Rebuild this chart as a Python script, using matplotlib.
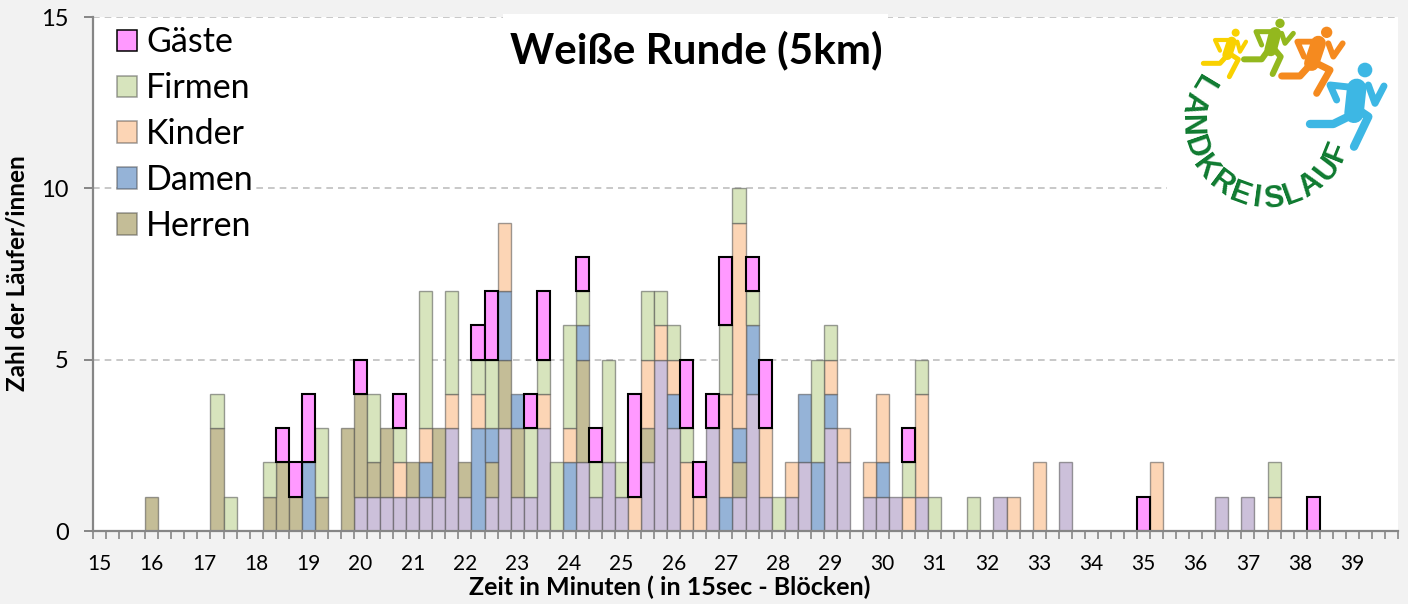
import math
import numpy as np
import matplotlib
matplotlib.use("Agg")
import matplotlib.pyplot as plt
from matplotlib.patches import Rectangle, Circle

plt.rcParams['font.family'] = ['Lato', 'DejaVu Sans']

minutes = list(range(15, 40))
series_names = ["Lila", "Herren", "Damen", "Kinder", "Firmen", "Gäste"]
lila = [0]*20 + [1,1,1,1,1,1,1,3,1,0, 1,3,1,1,3,0,0,2,1,2, 1,0,2,5,3,0,0,3,0,1,
                 4,1,0,1,2,0,3,2,0,1, 1,1,0,1,0,0,0,0,0,1, 0,0,0,0,2,0,0,0,0,0,
                 0,0,0,0,0,0,1,0,1,0] + [0]*10
herren = [0,0,0,0,1,0,0,0,0,3, 0,0,0,1,2,1,0,1,0,3, 3,1,2,0,1,0,2,0,1,0,
          1,2,2,0,0,0,0,3,0,0, 0,0,1,0,0,0,0,0,0,1] + [0]*50
damen = [0]*10 + [0,0,0,0,0,0,2,0,0,0, 0,0,0,0,0,1,0,0,0,3, 1,2,1,0,0,0,2,1,0,0,
                  0,0,0,0,1,0,0,0,1,1, 2,0,0,0,2,2,1,0,0,0, 1,0,0,0,0,0,0,0,0,0] + [0]*30
kinder = [0]*20 + [0,0,0,1,0,1,0,1,0,1, 0,2,0,0,1,0,1,0,0,0, 0,1,2,1,1,2,1,0,3,6,
                   0,2,0,1,0,0,1,1,0,1, 2,0,1,3,0,0,0,0,0,0, 1,0,2,0,0,0,0,0,0,0,
                   0,2,0,0,0,0,0,0,0,0, 1,0,0,0,0,0,0,0,0,0]
firmen = [0,0,0,0,0,0,0,0,0,1, 1,0,0,1,0,0,0,2,0,0, 0,2,0,1,0,4,0,3,0,1,
          2,0,0,2,1,2,3,1,1,3, 1,0,2,1,1,1,0,0,2,1, 1,0,1,0,0,3,1,0,0,0,
          0,0,1,1,1,0,0,1,0,0] + [0]*20 + [1,0,0,0,0,0,0,0,0,0]
gaeste = [0]*10 + [0,0,0,0,1,1,2,0,0,0, 1,0,0,1,0,0,0,0,0,1, 2,0,0,1,2,0,0,1,1,0,
                   0,3,0,0,0,2,1,1,2,0, 1,2,0,0,0,0,0,0,0,0, 0,0,1,0,0,0,0,0,0,0,
                   0,0,0,0,0,0,0,0,0,0, 1,0,0,0,0,0,0,0,0,0, 0,0,0,1,0,0,0,0,0,0]
values = [lila, herren, damen, kinder, firmen, gaeste]
colors = ["#CCC0DA", "#C4BD97", "#95B3D7", "#FCD5B5", "#D7E4BD", "#FF99FF"]

W, H = 1408, 604
fig = plt.figure(figsize=(W/100, H/100), dpi=100, facecolor="#F2F2F2")
ax = fig.add_axes([93/W, 1-531/H, (1398-93)/W, (531-17)/H], facecolor="white")

x = np.arange(100)
bottom = np.zeros(100)
handles = {}
for name, v, c in zip(series_names, values, colors):
    v = np.array(v, dtype=float)
    m = v > 0
    pink = name == "Gäste"
    ec = "#000000" if pink else (0.25, 0.25, 0.25, 0.5)
    b = ax.bar(x[m], v[m], bottom=bottom[m], width=1.0, color=c, edgecolor=ec,
               linewidth=1.5 if pink else 1.0, zorder=4 if pink else 3, label=name)
    handles[name] = b
    bottom += v

ax.set_xlim(-0.5, 99.5)
ax.set_ylim(0, 15)
ax.set_yticks([0, 5, 10, 15])
ax.set_xticks(np.arange(len(minutes))*4)
ax.set_xticklabels([str(m) for m in minutes])
ax.set_xticks(np.arange(101)-0.5, minor=True)
ax.tick_params(axis='x', which='major', length=0, pad=16.5, labelsize=15, labelcolor="black")
ax.tick_params(axis='x', which='minor', length=5.5, width=1.2, color="#868686")
ax.tick_params(axis='y', which='major', length=6.5, width=1.4, color="#868686", pad=11, labelsize=17)
for s in ("top", "right"):
    ax.spines[s].set_visible(False)
for s in ("left", "bottom"):
    ax.spines[s].set_color("#868686")
    ax.spines[s].set_linewidth(1.6)
    ax.spines[s].set_zorder(6)
ax.yaxis.grid(True, color="#BFBFBF", linewidth=1.2, linestyle=(0, (4, 3)), zorder=1)
ax.set_axisbelow(True)

order = ["Gäste", "Firmen", "Kinder", "Damen", "Herren"]
leg = ax.legend([handles[n] for n in order], order, loc="upper left",
                bbox_to_anchor=(0.0184, 0.982), frameon=True, facecolor="white", edgecolor="none",
                framealpha=1, fontsize=24.5, handlelength=0.59, handleheight=0.59,
                handletextpad=0.27, labelspacing=0.41, borderpad=0.0, borderaxespad=0.0, fancybox=False)
leg.set_zorder(5)
for h in leg.legend_handles:
    h.set_linewidth(1.1)

fig.text(670/W, 1-587/H, "Zeit in Minuten ( in 15sec - Blöcken)", ha="center", va="center",
         fontsize=18, fontweight="bold")
fig.text(17/W, 1-273.5/H, "Zahl der Läufer/innen", rotation=90, ha="center", va="center",
         fontsize=17.5, fontweight="bold")

# overlay in pixel coordinates for title box and logo
ov = fig.add_axes([0, 0, 1, 1], facecolor="none")
ov.set_xlim(0, W)
ov.set_ylim(H, 0)
ov.axis("off")
ov.add_patch(Rectangle((503, 14), 385, 70, fc="white", ec="none"))
ov.text(696, 50, "Weiße Runde (5km)", ha="center", va="center", fontsize=30.3, fontweight="bold")
ov.add_patch(Rectangle((1167, 18), 230, 199, fc="white", ec="none"))

def zx(v):
    return 1160 + v/3
def zy(v):
    return v/3

def runner(col, head, r, lines, lw):
    ov.add_patch(Circle((zx(head[0]), zy(head[1])), r/3, fc=col, ec="none"))
    for pts, w in lines:
        ov.plot([zx(p[0]) for p in pts], [zy(p[1]) for p in pts], color=col, lw=w*lw,
                solid_capstyle="round", solid_joinstyle="round")

runner("#3DB7E4", (615, 210), 22, [
    ([(530, 300), (510, 255), (575, 262)], 1),
    ([(625, 255), (645, 310), (672, 258)], 1),
    ([(590, 265), (582, 340)], 2.8),
    ([(575, 345), (520, 372), (450, 372)], 1.2),
    ([(595, 330), (625, 350), (582, 440)], 1.2)], 5.0)
runner("#F58A1F", (500, 97), 17, [
    ([(432, 170), (412, 125), (480, 125)], 1),
    ([(505, 130), (520, 170), (548, 130)], 1),
    ([(475, 130), (455, 190)], 2.6),
    ([(450, 195), (420, 228), (365, 228)], 1.2),
    ([(470, 190), (510, 210), (470, 280)], 1.2)], 4.2)
runner("#93B81E", (360, 70), 14, [
    ([(305, 135), (288, 95), (345, 95)], 1),
    ([(365, 100), (375, 130), (400, 100)], 1),
    ([(345, 100), (332, 150)], 2.5),
    ([(325, 150), (305, 178), (252, 178)], 1.2),
    ([(345, 150), (362, 170), (338, 222)], 1.2)], 3.6)
runner("#F9D100", (227, 98), 12, [
    ([(180, 152), (165, 120), (215, 120)], 1),
    ([(232, 125), (240, 155), (258, 125)], 1),
    ([(215, 125), (202, 165)], 2.4),
    ([(200, 168), (180, 190), (130, 190)], 1.2),
    ([(215, 165), (235, 178), (208, 230)], 1.2)], 3.0)

logo = "LANDKREISLAUF"
weights = [0.85, 1, 1.05, 1.05, 1, 1.05, 0.95, 0.55, 0.95, 0.85, 1, 1.05, 0.8]
cx, cy, rad = zx(320), zy(370), 76
# positions along the arc, from upper left through the bottom to the right
edges = np.cumsum([0] + [(weights[i]+weights[i+1])/2 for i in range(12)])
angles = 149 + edges/edges[-1]*189
for ch, a in zip(logo, angles):
    t = math.radians(a)
    ov.text(cx + rad*math.cos(t), cy - rad*math.sin(t), ch, rotation=a+90, rotation_mode="anchor",
            ha="center", va="center", fontsize=22, color="#0F7A30", family="Liberation Sans", fontweight="bold")

fig.savefig("out.png", dpi=100, facecolor=fig.get_facecolor())
